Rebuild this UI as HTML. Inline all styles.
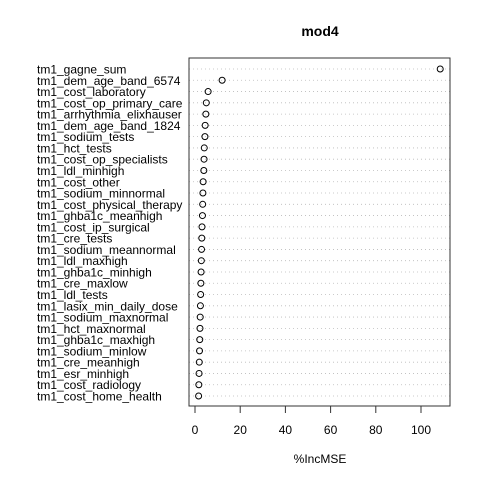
<!DOCTYPE html>
<html><head><meta charset="utf-8"><style>
html,body{margin:0;padding:0;background:#fff}
svg{display:block;font-family:"Liberation Sans",Arial,sans-serif}
</style></head><body>
<svg id="chart" width="480" height="480"></svg>
<script>
const features = ["tm1_gagne_sum","tm1_dem_age_band_6574","tm1_cost_laboratory","tm1_cost_op_primary_care","tm1_arrhythmia_elixhauser","tm1_dem_age_band_1824","tm1_sodium_tests","tm1_hct_tests","tm1_cost_op_specialists","tm1_ldl_minhigh","tm1_cost_other","tm1_sodium_minnormal","tm1_cost_physical_therapy","tm1_ghba1c_meanhigh","tm1_cost_ip_surgical","tm1_cre_tests","tm1_sodium_meannormal","tm1_ldl_maxhigh","tm1_ghba1c_minhigh","tm1_cre_maxlow","tm1_ldl_tests","tm1_lasix_min_daily_dose","tm1_sodium_maxnormal","tm1_hct_maxnormal","tm1_ghba1c_maxhigh","tm1_sodium_minlow","tm1_cre_meanhigh","tm1_esr_minhigh","tm1_cost_radiology","tm1_cost_home_health"];
const incMSE = [108.5,12.0,5.8,5.0,4.8,4.5,4.4,4.1,4.0,3.9,3.6,3.5,3.4,3.3,3.1,3.0,2.9,2.8,2.7,2.6,2.5,2.4,2.3,2.2,2.1,2.0,1.9,1.8,1.7,1.6];
const xTicks = [0,20,40,60,80,100];
const xTitle = "%IncMSE";
const title = "mod4";

const NS="http://www.w3.org/2000/svg";
const svg=document.getElementById('chart');
function mk(t,a,p){const e=document.createElementNS(NS,t);for(const k in a)e.setAttribute(k,a[k]);(p||svg).appendChild(e);return e;}
const L=189,R=450,T=58,B=406;
const x=v=>195+v*2.26;
const y0=69,y1=396;
const y=i=>y0+i*(y1-y0)/(features.length-1);

const t=mk('text',{x:320,y:36,'text-anchor':'middle','font-size':14,'font-weight':'bold',fill:'#000'});
t.textContent=title;



features.forEach((f,i)=>{
  const ln=mk('line',{x1:L,x2:R,y1:y(i),y2:y(i),stroke:'#bbb','stroke-width':0.8,'stroke-dasharray':'1,3'});
  
  
  const lb=mk('text',{x:37,y:y(i)+4.5,'text-anchor':'start','font-size':12,fill:'#000'});
  lb.textContent=f;
  
  
  const c=mk('circle',{cx:x(incMSE[i]),cy:y(i),r:3,fill:'none',stroke:'#000','stroke-width':1});
  
  
});

const box=mk('rect',{x:L,y:T,width:R-L,height:B-T,fill:'none',stroke:'#333','stroke-width':1});



xTicks.forEach(v=>{
  const tk=mk('line',{x1:x(v),x2:x(v),y1:B,y2:B+7,stroke:'#333'});
  
  
  const tl=mk('text',{x:x(v),y:434,'text-anchor':'middle','font-size':12,fill:'#000'});
  tl.textContent=v;
  
  
});
const ax=mk('line',{x1:x(0),x2:x(100),y1:B,y2:B,stroke:'#333'});



const xt=mk('text',{x:320,y:463,'text-anchor':'middle','font-size':12,fill:'#000'});
xt.textContent=xTitle;


</script>
</body></html>
